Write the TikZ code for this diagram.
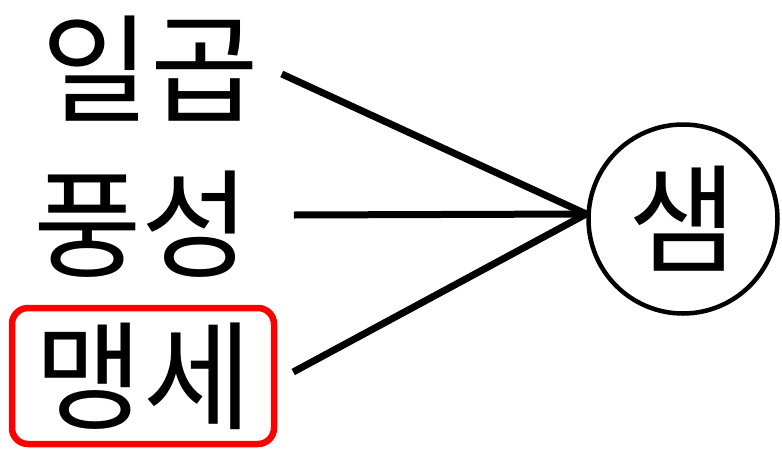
\documentclass[tikz,border=0pt]{standalone}
\usepackage{fontspec}
\usepackage{xcolor}
\usepackage{tikz}
\usetikzlibrary{positioning,calc}
\newfontfamily\krfont{Noto Sans CJK KR}
\definecolor{cmark}{RGB}{255,0,0}

\begin{document}
\begin{tikzpicture}[
  x=1pt,y=-1pt,
  font=\krfont\fontsize{118}{130}\selectfont,
  word/.style={inner sep=0pt,anchor=center},
  picked/.style={word,draw=cmark,line width=6.5pt,rounded corners=16pt,minimum width=262pt,minimum height=136pt},
  hub/.style={circle,draw,line width=4.5pt,minimum size=189pt,inner sep=0pt},
  link/.style={line width=7pt},
]
\useasboundingbox (0,0) rectangle (782,453);
% words on the left
\node[word] (ilgop) at (150,69) {일곱};
\node[word] (pungseong) at (142,224) {풍성};
\node[picked] (maengse) at (143,376) {맹세};
% the spring on the right
\node[hub] (saem) at (683,219) {\raisebox{-4pt}{샘}};

\draw[link] ([xshift=23pt,yshift=-5pt]ilgop.east) -- ([yshift=5pt]saem.west);
\draw[link] ([xshift=43pt,yshift=9pt]pungseong.east) -- ([yshift=5pt]saem.west);
\draw[link] ([xshift=16pt,yshift=4pt]maengse.east) -- ([yshift=5pt]saem.west);
\end{tikzpicture}
\end{document}
